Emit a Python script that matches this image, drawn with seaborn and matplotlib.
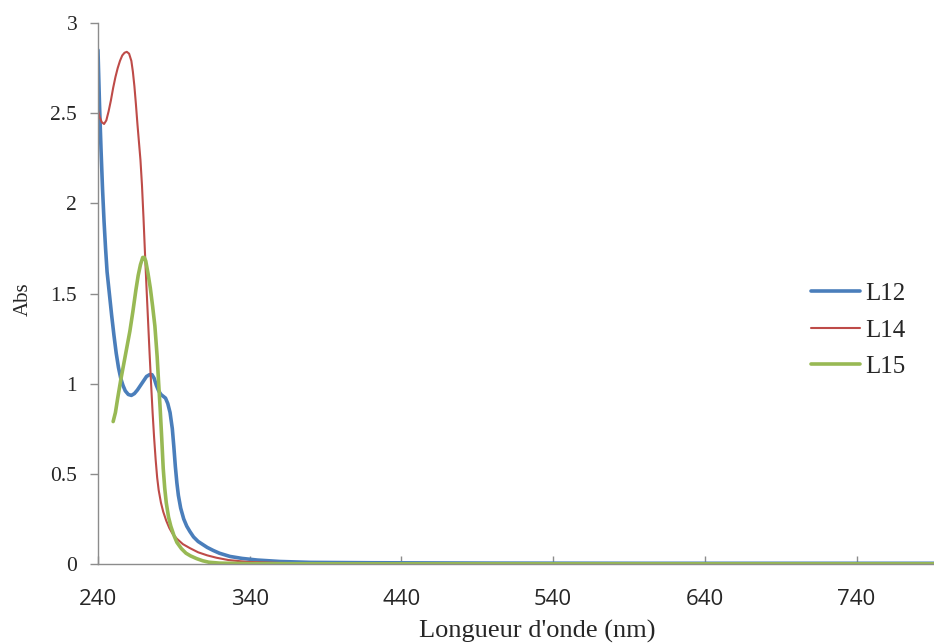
import numpy as np
import pandas as pd
import matplotlib
matplotlib.use("Agg")
import matplotlib.pyplot as plt
import seaborn as sns

# Absorption spectra
l12_nm = [240, 241, 242, 243, 244, 245, 246, 247.5, 249, 250.5, 252, 253.5, 255, 256.5, 258,
          260, 262, 264, 266, 268, 270, 272, 274, 275.6, 277, 278.5, 280, 281.5, 283, 284.5,
          286, 287.5, 289, 290, 291, 292, 293, 294.5, 296.5, 298.5, 300.6, 303, 306, 312, 316,
          320, 327, 335, 345, 360, 380, 420, 500, 600, 700, 800]
l12_abs = [2.85, 2.55, 2.3, 2.08, 1.9, 1.75, 1.62, 1.5, 1.38, 1.27, 1.17, 1.09, 1.03, 0.99, 0.96,
           0.94, 0.935, 0.945, 0.965, 0.99, 1.015, 1.04, 1.05, 1.05, 1.03, 0.99, 0.96, 0.94, 0.93, 0.92,
           0.89, 0.84, 0.75, 0.65, 0.54, 0.45, 0.38, 0.31, 0.25, 0.21, 0.18, 0.15, 0.125, 0.092, 0.075,
           0.06, 0.042, 0.031, 0.022, 0.014, 0.009, 0.007, 0.005, 0.004, 0.004, 0.004]

l14_nm = [240, 241, 242.5, 244, 245.5, 247, 248.5, 250, 251.5, 253, 254.5, 256, 257.5, 259, 260.5,
          262, 263, 264, 265, 266, 267, 268, 269, 270, 271, 272, 273, 274, 275, 276, 277, 278,
          279, 280, 281.5, 283, 285, 287, 289, 292, 296, 300.6, 306, 312, 318, 326, 338, 360,
          400, 500, 600, 700, 800]
l14_abs = [2.52, 2.48, 2.45, 2.44, 2.46, 2.51, 2.57, 2.64, 2.7, 2.75, 2.79, 2.82, 2.835, 2.84, 2.83,
           2.79, 2.73, 2.65, 2.55, 2.44, 2.34, 2.24, 2.1, 1.92, 1.72, 1.53, 1.35, 1.17, 1.0, 0.84, 0.7, 0.58,
           0.48, 0.41, 0.34, 0.29, 0.24, 0.2, 0.17, 0.14, 0.11, 0.088, 0.065, 0.048, 0.035, 0.022, 0.012, 0.006,
           0.003, 0.002, 0.002, 0.002, 0.002]

l15_nm = [250, 251.5, 253, 255, 257, 259, 261, 263, 265, 266.5, 268, 269.5, 270.5, 271.5, 273,
          274.5, 276, 277.5, 279, 280, 281, 282, 283, 284, 285, 286.5, 288, 290, 292, 295, 298,
          301, 305, 309, 313, 320, 340, 400, 500, 600, 700, 800]
l15_abs = [0.79, 0.84, 0.92, 1.02, 1.11, 1.2, 1.29, 1.4, 1.52, 1.6, 1.66, 1.7, 1.7, 1.68, 1.61,
           1.53, 1.43, 1.32, 1.15, 1.0, 0.86, 0.7, 0.53, 0.42, 0.34, 0.26, 0.21, 0.16, 0.12, 0.085, 0.06,
           0.045, 0.03, 0.018, 0.01, 0.005, 0.002, 0.001, 0.001, 0.001, 0.001, 0.001]

series = {"L12": (l12_nm, l12_abs), "L14": (l14_nm, l14_abs), "L15": (l15_nm, l15_abs)}
colors = {"L12": "#4A7EBB", "L14": "#BE4B48", "L15": "#98B954"}
widths = {"L12": 2.6, "L14": 1.5, "L15": 2.6}

sns.set_style("white")

fig = plt.figure(figsize=(9.34, 6.44), dpi=100)
ax = fig.add_axes([0.1049, 0.1242, 0.8951, 0.8401])

for name, (x, y) in series.items():
    df = pd.DataFrame({"nm": x, "abs": y})
    sns.lineplot(data=df, x="nm", y="abs", ax=ax, color=colors[name],
                 linewidth=widths[name], label=name)

ax.set_xlim(240, 791)
ax.set_ylim(0, 3)
ax.set_xticks([240, 340, 440, 540, 640, 740])
ax.set_yticks([0, 0.5, 1, 1.5, 2, 2.5, 3])
ax.set_yticklabels(["0", "0.5", "1", "1.5", "2", "2.5", "3"])

for side in ["top", "right"]:
    ax.spines[side].set_visible(False)
for side in ["left", "bottom"]:
    ax.spines[side].set_color("#8C8C8C")
    ax.spines[side].set_linewidth(1.0)

ax.tick_params(axis="x", direction="in", length=6, width=1, color="#8C8C8C", pad=18,
               labelsize=16)
ax.tick_params(axis="y", direction="out", length=6, width=1, color="#8C8C8C", pad=9,
               labelsize=15.5)
ax.tick_params(axis="x", bottom=True)
ax.tick_params(axis="y", left=True)
for lab in ax.get_xticklabels():
    lab.set_fontfamily("Open Sans")
for lab in ax.get_yticklabels():
    lab.set_fontfamily("Liberation Serif")

ax.set_xlabel("Longueur d'onde (nm)", fontsize=19, fontfamily="Liberation Serif")
ax.set_ylabel("Abs", fontsize=15, fontfamily="Liberation Serif")
ax.xaxis.set_label_coords(0.525, -0.104)
ax.yaxis.set_label_coords(-0.078, 0.49)

leg = ax.legend(loc="center left", bbox_to_anchor=(0.826, 0.432), frameon=False,
                handlelength=1.95, handletextpad=0.2, labelspacing=0.56,
                prop={"family": "Liberation Serif", "size": 18})

fig.savefig("out.png", dpi=100)
